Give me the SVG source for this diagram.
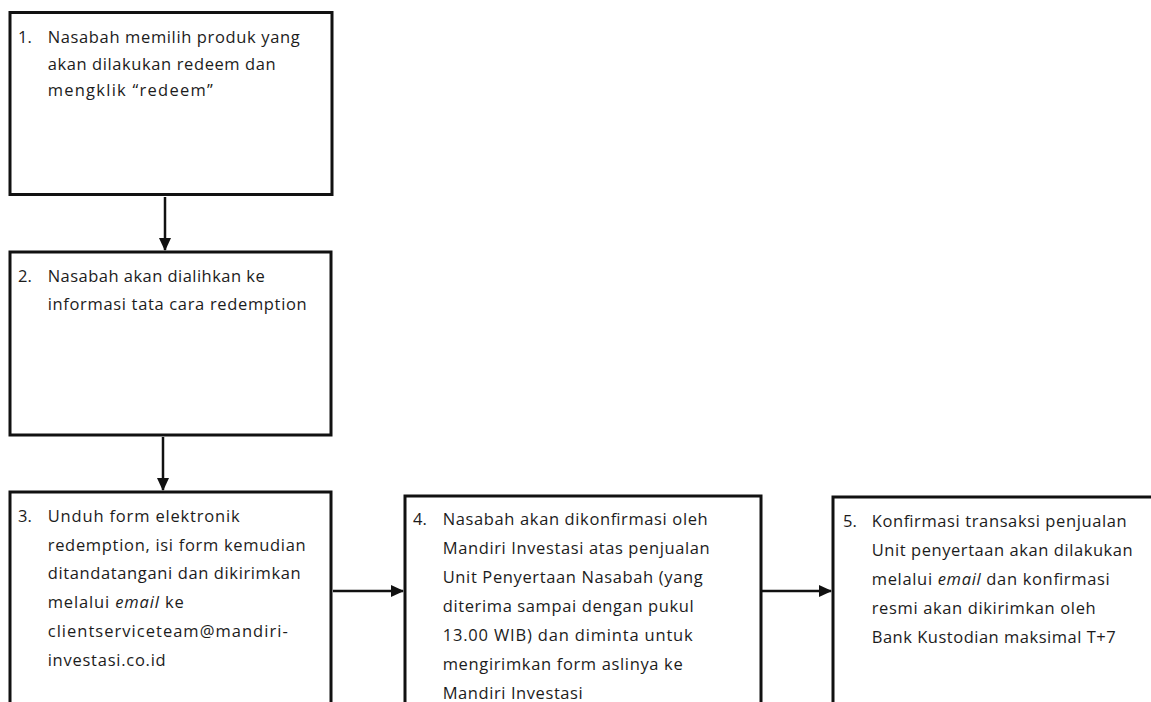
<svg xmlns="http://www.w3.org/2000/svg" width="1151" height="702" viewBox="0 0 1151 702">
  <style>
    .box { fill: #ffffff; stroke: #111111; stroke-width: 3; }
    .conn { stroke: #111111; stroke-width: 2.5; fill: none; }
    .t { font-family: "Open Sans", "Noto Sans", "Liberation Sans", sans-serif; font-size: 16.5px; fill: #1c1c1c; }
    .i { font-style: italic; }
  </style>
  <defs>
    <marker id="arrow" viewBox="0 0 13 12" refX="12" refY="6" markerWidth="13" markerHeight="12" markerUnits="userSpaceOnUse" orient="auto">
      <path d="M0,0 L13,6 L0,12 z" fill="#111111"/>
    </marker>
  </defs>
  <rect x="0" y="0" width="1151" height="702" fill="#ffffff"/>

  <g id="connectors">
    <line class="conn" x1="165" y1="197" x2="165" y2="250" marker-end="url(#arrow)"/>
    <line class="conn" x1="163" y1="437" x2="163" y2="490" marker-end="url(#arrow)"/>
    <line class="conn" x1="333" y1="591" x2="403" y2="591" marker-end="url(#arrow)"/>
    <line class="conn" x1="762" y1="591" x2="831" y2="591" marker-end="url(#arrow)"/>
  </g>

  <g id="node1">
    <rect class="box" x="10" y="12.5" width="322" height="182"/>
    <text class="t" x="18" y="43">1.</text>
    <text class="t" x="47.7" y="43" textLength="252" lengthAdjust="spacing">Nasabah memilih produk yang</text>
    <text class="t" x="47.7" y="69.5" textLength="228" lengthAdjust="spacing">akan dilakukan redeem dan</text>
    <text class="t" x="47.7" y="96" textLength="165" lengthAdjust="spacing">mengklik “redeem”</text>
  </g>

  <g id="node2">
    <rect class="box" x="10" y="252" width="321" height="183"/>
    <text class="t" x="18" y="282">2.</text>
    <text class="t" x="47.7" y="282" textLength="217" lengthAdjust="spacing">Nasabah akan dialihkan ke</text>
    <text class="t" x="47.7" y="309.5" textLength="259" lengthAdjust="spacing">informasi tata cara redemption</text>
  </g>

  <g id="node3">
    <rect class="box" x="10" y="492" width="321" height="260"/>
    <text class="t" x="18" y="521.7">3.</text>
    <text class="t" x="47.7" y="521.7" textLength="192" lengthAdjust="spacing">Unduh form elektronik</text>
    <text class="t" x="47.7" y="550.5" textLength="258" lengthAdjust="spacing">redemption, isi form kemudian</text>
    <text class="t" x="47.7" y="579.3" textLength="253" lengthAdjust="spacing">ditandatangani dan dikirimkan</text>
    <text class="t" x="47.7" y="608.2" textLength="136" lengthAdjust="spacing">melalui <tspan class="i">email</tspan> ke</text>
    <text class="t" x="47.7" y="637" textLength="240" lengthAdjust="spacing">clientserviceteam@mandiri-</text>
    <text class="t" x="47.7" y="665.8" textLength="118" lengthAdjust="spacing">investasi.co.id</text>
  </g>

  <g id="node4">
    <rect class="box" x="405" y="496" width="356" height="260"/>
    <text class="t" x="413" y="525">4.</text>
    <text class="t" x="442.7" y="525" textLength="265" lengthAdjust="spacing">Nasabah akan dikonfirmasi oleh</text>
    <text class="t" x="442.7" y="554" textLength="267" lengthAdjust="spacing">Mandiri Investasi atas penjualan</text>
    <text class="t" x="442.7" y="583" textLength="260" lengthAdjust="spacing">Unit Penyertaan Nasabah (yang</text>
    <text class="t" x="442.7" y="612" textLength="251" lengthAdjust="spacing">diterima sampai dengan pukul</text>
    <text class="t" x="442.7" y="641" textLength="250" lengthAdjust="spacing">13.00 WIB) dan diminta untuk</text>
    <text class="t" x="442.7" y="670" textLength="240" lengthAdjust="spacing">mengirimkan form aslinya ke</text>
    <text class="t" x="442.7" y="699" textLength="140" lengthAdjust="spacing">Mandiri Investasi</text>
  </g>

  <g id="node5">
    <rect class="box" x="833" y="497" width="400" height="260"/>
    <text class="t" x="843" y="526.7">5.</text>
    <text class="t" x="871.7" y="526.7" textLength="255" lengthAdjust="spacing">Konfirmasi transaksi penjualan</text>
    <text class="t" x="871.7" y="555.7" textLength="261" lengthAdjust="spacing">Unit penyertaan akan dilakukan</text>
    <text class="t" x="871.7" y="584.7" textLength="238" lengthAdjust="spacing">melalui <tspan class="i">email</tspan> dan konfirmasi</text>
    <text class="t" x="871.7" y="613.7" textLength="224" lengthAdjust="spacing">resmi akan dikirimkan oleh</text>
    <text class="t" x="871.7" y="642.7" textLength="244" lengthAdjust="spacing">Bank Kustodian maksimal T+7</text>
  </g>
</svg>
